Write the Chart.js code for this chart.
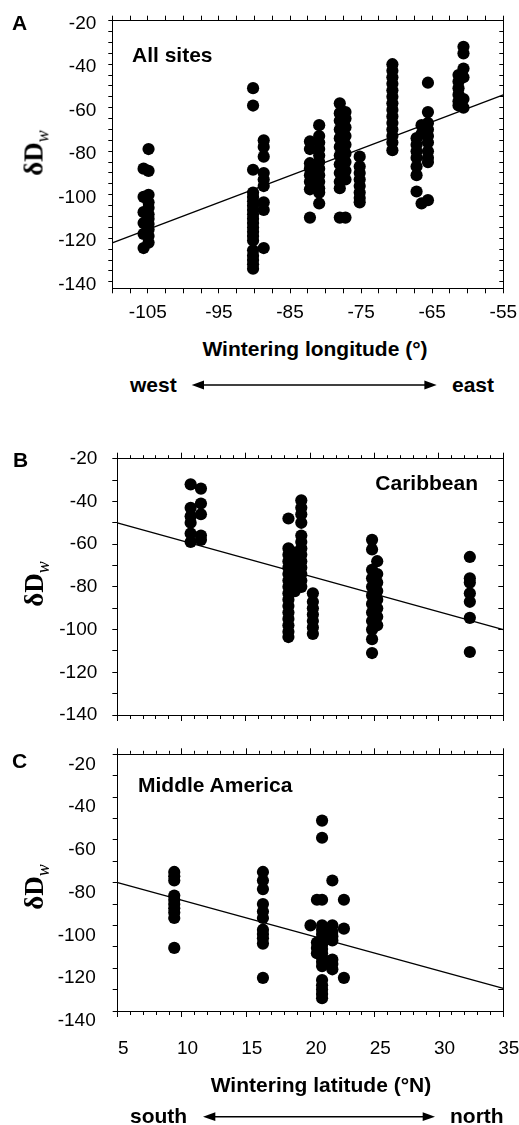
<!DOCTYPE html>
<html>
<head>
<meta charset="utf-8">
<script src="https://cdn.jsdelivr.net/npm/chart.js@4.4.1/dist/chart.umd.min.js"></script>
<style>
  html, body { margin: 0; padding: 0; background: #fff; }
  body { position: relative; width: 519px; height: 1125px; overflow: hidden;
         font-family: "Liberation Sans", Arial, sans-serif; color: #000; }
  canvas { position: absolute; left: 0; }
  .t { position: absolute; font-weight: bold; font-size: 21px; line-height: 1; white-space: nowrap; }
  .c { transform: translateX(-50%); }
  .yt { position: absolute; font-family: "Liberation Serif", "Times New Roman", serif; font-weight: bold;
        font-size: 27px; line-height: 1; white-space: nowrap; transform: translate(-50%, -50%) rotate(-90deg); }
  .yt i { font-size: 18px; font-weight: normal; position: relative; top: 6px; }
  svg { position: absolute; left: 0; top: 0; }
</style>
</head>
<body>
<canvas id="chartA" width="519" height="330" style="top:0px"></canvas>
<canvas id="chartB" width="519" height="300" style="top:430px"></canvas>
<canvas id="chartC" width="519" height="345" style="top:730px"></canvas>

<div class="t" style="left:12px;top:12px">A</div>
<div class="t" style="left:132px;top:44px">All sites</div>
<div class="yt" style="left:34px;top:153px">δD<i>w</i></div>
<div class="t c" style="left:315px;top:338px">Wintering longitude (°)</div>
<div class="t" style="left:130px;top:374px">west</div>
<div class="t" style="left:452px;top:374px">east</div>

<div class="t" style="left:13px;top:449px">B</div>
<div class="t" style="right:41px;top:472px">Caribbean</div>
<div class="yt" style="left:34px;top:584px">δD<i>w</i></div>

<div class="t" style="left:12px;top:750px">C</div>
<div class="t" style="left:138px;top:774px">Middle America</div>
<div class="yt" style="left:34px;top:887px">δD<i>w</i></div>
<div class="t c" style="left:321px;top:1074px">Wintering latitude (°N)</div>
<div class="t" style="left:130px;top:1105px">south</div>
<div class="t" style="left:450px;top:1105px">north</div>

<svg width="519" height="1125">
  <line x1="200" y1="385" x2="428" y2="385" stroke="#000" stroke-width="1.4"/>
  <polygon points="191.7,385 204,380.6 204,389.4" fill="#000"/>
  <polygon points="436.7,385 424.4,380.6 424.4,389.4" fill="#000"/>
  <line x1="211" y1="1116.7" x2="427" y2="1116.7" stroke="#000" stroke-width="1.4"/>
  <polygon points="203,1116.7 215.3,1112.3 215.3,1121.1" fill="#000"/>
  <polygon points="435,1116.7 422.7,1112.3 422.7,1121.1" fill="#000"/>
</svg>

<script>
// ---- data ----
// A: all sites, by wintering longitude
const lonA = [-105.6, -104.9, -90.2, -88.7, -82.2, -81.5, -80.9, -78.0,
              -77.2, -75.2, -70.6, -67.2, -66.5, -65.6, -61.3, -60.6];
const dDA = [
  [-88, -101, -108, -113, -118, -124.5],
  [-79, -89, -100, -103.5, -106, -109, -111, -113.5, -116, -119, -122],
  [-51, -59, -88.5, -99, -101, -103, -105, -107, -109, -111, -113, -115, -117, -119, -121, -125.5, -128, -130, -132, -134],
  [-75, -78, -82.5, -90, -93, -96, -103.5, -107, -124.5],
  [-75.5, -79, -85.5, -88, -91, -94, -97.5, -110.5],
  [-87, -90, -93],
  [-68, -73, -76, -79, -82, -85, -88, -91, -94, -97, -99, -104],
  [-58, -62.5, -66, -70, -74, -78, -82, -86, -90, -94, -97, -110.5],
  [-62, -65, -69, -73, -77, -81, -85, -89, -93, -110.5],
  [-82.5, -87, -90, -93, -96, -99, -101.5, -103.5],
  [-40, -43, -46, -49, -52, -55, -58, -61, -64, -67, -70, -73, -76, -79.5],
  [-74, -77, -80, -83, -87, -91, -98.5],
  [-68, -72, -104],
  [-48.5, -62, -67, -70, -73, -76, -80, -83, -85, -102.5],
  [-45, -48, -51, -54, -57, -59],
  [-32, -35, -42, -46, -56, -60],
];
const fitA = [{ x: -110, y: -122.1 }, { x: -55, y: -54.1 }];

// B: Caribbean, by wintering latitude
const latB = [10.7, 11.5, 18.3, 18.8, 19.3, 20.2, 24.8, 25.2, 32.4];
const dDB = [
  [-32, -43, -47, -50, -55, -59],
  [-34, -41, -46, -56, -58],
  [-48, -62, -65, -68, -71, -74, -77, -80, -83, -86, -89, -92, -95, -98, -101, -103.5],
  [-64, -67, -70, -73, -76, -79, -82],
  [-39.5, -43, -46, -50, -56, -59, -62, -65, -68, -71, -74, -77, -80],
  [-83, -87, -90, -93, -96, -99, -102],
  [-58, -62.5, -72, -76, -80, -84, -88, -92, -96, -100, -104.5, -111],
  [-68, -74, -78, -82, -86, -90, -94, -98],
  [-66, -76, -78, -83, -87, -94.5, -110.5],
];
const fitB = [{ x: 5, y: -50 }, { x: 35, y: -100 }];

// C: Middle America, by wintering latitude
const latC = [9.4, 16.3, 20.0, 20.5, 20.9, 21.7, 22.6];
const dDC = [
  [-75, -77, -79, -86, -88, -90, -92, -94, -96.5, -110.5],
  [-75, -79, -83, -90, -93.5, -96.5, -102, -104, -106, -108.5, -124.5],
  [-100],
  [-88, -108, -110.5, -113],
  [-51, -59, -88, -100, -102, -104, -106, -109, -111, -113, -115, -117, -119, -125.5, -128, -130, -132, -134],
  [-79, -100, -103, -105, -107, -116, -118, -120.5],
  [-88, -101.5, -124.5],
];
const fitC = [{ x: 5, y: -80 }, { x: 35, y: -129.4 }];

// tick labels
const lonLabels = [-105, -95, -85, -75, -65, -55];
const latLabels = [5, 10, 15, 20, 25, 30, 35];
const dDLabels = [-140, -120, -100, -80, -60, -40, -20];

// ---- helpers ----
function toPoints(xs, cols) {
  return xs.flatMap((x, i) => cols[i].map((y) => ({ x, y })));
}

function steps(a, b, step) {
  const out = [];
  for (let v = a; v <= b + 1e-9; v += step) out.push(Math.round(v * 1000) / 1000);
  return out;
}

function inList(list, v) {
  return list.some((l) => Math.abs(l - v) < 1e-6);
}

Chart.defaults.font.family = "'Liberation Sans', Arial, sans-serif";
Chart.defaults.color = "#000";

function makePanel(id, o) {
  const setTicks = (vals) => (s) => { s.ticks = vals.map((v) => ({ value: v })); };
  const isMinor = (ctx) => o.shortMinor && ctx.tick && !inList(latLabels, ctx.tick.value);
  const border = { display: true, color: "#000", width: 1 };

  return new Chart(document.getElementById(id), {
    type: "scatter",
    data: {
      datasets: [
        {
          data: o.points,
          backgroundColor: "#000",
          borderWidth: 0,
          pointRadius: 6.1,
          pointHoverRadius: 6.1,
        },
        {
          data: o.fit,
          showLine: true,
          borderColor: "#000",
          borderWidth: 1.3,
          pointRadius: 0,
          fill: false,
        },
      ],
    },
    options: {
      responsive: false,
      animation: false,
      devicePixelRatio: 1,
      events: [],
      layout: { padding: 0, autoPadding: false },
      plugins: { legend: { display: false }, tooltip: { enabled: false } },
      scales: {
        x: {
          type: "linear",
          position: "bottom",
          min: o.xMin,
          max: o.xMax,
          afterBuildTicks: setTicks(o.xTicks),
          afterFit: (s) => { s.height = o.bottom; s.paddingLeft = 0; s.paddingRight = 0; },
          border,
          grid: {
            drawOnChartArea: false,
            tickLength: o.xTickLen,
            tickColor: "#000",
            tickBorderDash: (ctx) => (isMinor(ctx) ? [3, 100] : []),
          },
          ticks: {
            display: o.xLabels.length > 0,
            autoSkip: false,
            maxRotation: 0,
            padding: o.xPad,
            labelOffset: o.xLabelOffset,
            font: { size: 19 },
            callback: (v) => (inList(o.xLabels, v) ? String(v) : ""),
          },
        },
        x2: {
          type: "linear",
          position: "top",
          min: o.xMin,
          max: o.xMax,
          afterBuildTicks: setTicks(o.xTicks),
          afterFit: (s) => { s.height = o.top; },
          border,
          grid: {
            drawOnChartArea: false,
            tickLength: o.xTickLen,
            tickColor: "#000",
            tickBorderDash: (ctx) => (isMinor(ctx) ? [3, 100] : []),
            tickBorderDashOffset: (ctx) => (isMinor(ctx) ? 103 - (o.xTickLen - 3.5) : 0),
          },
          ticks: { display: false, autoSkip: false },
        },
        y: {
          type: "linear",
          position: "left",
          min: o.yMin,
          max: -20,
          afterBuildTicks: setTicks(o.yTicks),
          afterFit: (s) => { s.width = o.left; s.paddingTop = 0; s.paddingBottom = 0; },
          border,
          grid: { drawOnChartArea: false, tickLength: o.yTickLen, tickColor: "#000" },
          ticks: {
            autoSkip: false,
            padding: o.yPad,
            labelOffset: o.yLabelOffset,
            font: { size: 19 },
            callback: (v) => (inList(dDLabels, v) ? String(v) : ""),
          },
        },
        y2: {
          type: "linear",
          position: "right",
          min: o.yMin,
          max: -20,
          afterBuildTicks: setTicks(o.yTicks),
          afterFit: (s) => { s.width = o.right; },
          border,
          // negative length: ticks point into the plot on this side
          grid: { drawOnChartArea: false, tickLength: -o.yTickLen, tickColor: "#000" },
          ticks: { display: false, autoSkip: false },
        },
      },
    },
  });
}

makePanel("chartA", {
  points: toPoints(lonA, dDA),
  fit: fitA,
  xMin: -110, xMax: -55, xTicks: steps(-110, -55, 2.5), xLabels: lonLabels,
  yMin: -143, yTicks: steps(-140, -20, 5),
  left: 112.3, right: 15.7, top: 20.7, bottom: 41.7,
  xTickLen: 5, yTickLen: 4, xPad: 8, yPad: 12, xLabelOffset: 0, yLabelOffset: 3,
  shortMinor: false,
});

makePanel("chartB", {
  points: toPoints(latB, dDB),
  fit: fitB,
  xMin: 5, xMax: 35, xTicks: steps(5, 35, 1), xLabels: [],
  yMin: -140, yTicks: steps(-140, -20, 10),
  left: 117.3, right: 15.7, top: 28.7, bottom: 15,
  xTickLen: 6, yTickLen: 5, xPad: 0, yPad: 15, xLabelOffset: 0, yLabelOffset: 0,
  shortMinor: true,
});

makePanel("chartC", {
  points: toPoints(latC, dDC),
  fit: fitC,
  xMin: 5, xMax: 35, xTicks: steps(5, 35, 1), xLabels: latLabels,
  yMin: -140, yTicks: steps(-140, -20, 10),
  left: 117.7, right: 15.7, top: 24.3, bottom: 64,
  xTickLen: 6, yTickLen: 5, xPad: 20, yPad: 17, xLabelOffset: 5.5, yLabelOffset: 10,
  shortMinor: true,
});
</script>
</body>
</html>
